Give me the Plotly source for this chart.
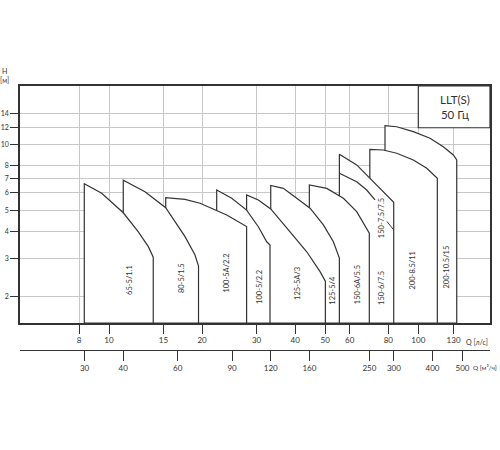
import math
import plotly.graph_objects as go

# pump models, left to right
pumps = ['65-5/1.1', '80-5/1.5', '100-5A/2.2', '100-5/2.2', '125-5A/3', '125-5/4',
         '150-6A/5.5', '150-6/7.5', '150-7.5/7.5', '200-8.5/11', '200-10.5/15']

# Q [l/s] / H [m] along the top curve of each working field
q_curves = [
    [8.32, 9.47, 11.12, 12.44, 13.40, 13.90],
    [11.12, 13.07, 15.25, 17.61, 18.97, 19.47],
    [15.25, 17.61, 19.69, 24.02, 27.85],
    [22.29, 24.93, 27.85, 30.39, 32.35, 33.15],
    [27.85, 30.39, 33.33, 38.48, 43.58, 48.12, 50.06],
    [33.33, 36.61, 40.45, 44.67, 49.32, 53.13, 55.56],
    [44.43, 50.58, 57.24, 63.21, 68.10, 69.43],
    [55.56, 63.21, 68.10, 72.44],
    [55.56, 63.21, 71.53, 78.03, 83.26],
    [69.70, 77.05, 85.14, 96.34, 106.5, 115.2],
    [78.03, 85.14, 96.34, 109.1, 120.4, 129.8, 133.1],
]
h_curves = [
    [6.62, 5.98, 4.86, 3.97, 3.39, 3.03],
    [6.86, 6.08, 5.13, 3.77, 3.10, 2.76],
    [5.70, 5.60, 5.38, 4.75, 4.20],
    [6.19, 5.67, 5.00, 4.19, 3.57, 3.45],
    [5.87, 5.57, 5.06, 3.97, 3.21, 2.60, 2.35],
    [6.50, 6.30, 5.67, 5.10, 4.27, 3.57, 3.00],
    [6.53, 6.30, 5.67, 4.92, 4.12, 3.91],
    [7.40, 6.76, 6.19, 5.57],
    [9.05, 8.08, 6.76, 5.98, 5.43],
    [9.54, 9.47, 9.15, 8.52, 7.80, 7.01],
    [12.27, 12.13, 11.51, 10.73, 9.81, 8.98, 8.52],
]
open_fields = ['150-6/7.5']  # only the curve is drawn

# label positions (Q, H)
label_q = [11.69, 17.18, 23.92, 30.77, 40.45, 52.89, 63.5, 75.6, 76.2, 95.6, 123.6]
label_h = [2.38, 2.42, 2.55, 2.21, 2.30, 2.14, 2.26, 2.18, 4.58, 2.64, 2.74]

q_ls_ticks = [8, 10, 15, 20, 30, 40, 50, 60, 80, 100, 130]
q_m3h_ticks = [30, 40, 60, 90, 120, 160, 250, 300, 400, 500]
h_ticks = [2, 3, 4, 5, 6, 7, 8, 10, 12, 14]

q_range = [5.155, 170.5]
h_range = [1.506, 18.7]

LINE = '#333333'
GRID = '#c8c8c8'
FONT = 'Lato'

fig = go.Figure()

# later fields go underneath earlier ones
for i in reversed(range(len(pumps))):
    q = q_curves[i]
    h = h_curves[i]
    if pumps[i] in open_fields:
        fig.add_trace(go.Scatter(x=q, y=h, mode='lines',
                                 line=dict(color=LINE, width=1.2),
                                 hoverinfo='skip', showlegend=False))
        continue
    xs = [q[0]] + q + [q[-1], q[0]]
    ys = [h_range[0]] + h + [h_range[0], h_range[0]]
    fig.add_trace(go.Scatter(x=xs, y=ys, mode='lines', fill='toself',
                             fillcolor='white',
                             line=dict(color=LINE, width=1.2),
                             hoverinfo='skip', showlegend=False))

# dummy trace so the m3/h axis is drawn
fig.add_trace(go.Scatter(x=[], y=[], xaxis='x2', showlegend=False))

for name, lq, lh in zip(pumps, label_q, label_h):
    fig.add_annotation(x=math.log10(lq), y=math.log10(lh), text=name,
                       textangle=-90, showarrow=False,
                       font=dict(family=FONT, size=7.5, color=LINE))

# leader line for 150-7.5/7.5
fig.add_annotation(x=math.log10(83.26), y=math.log10(4.05), text='',
                   showarrow=True, arrowhead=0, arrowwidth=1, arrowcolor=LINE,
                   ax=-8, ay=-10)

# LLT(S) box
fig.add_shape(type='rect', xref='x', yref='y', x0=100, x1=q_range[1],
              y0=12, y1=h_range[1], fillcolor='white',
              line=dict(color=LINE, width=1.2), layer='above')
fig.add_annotation(xref='paper', yref='paper', x=0.925, y=0.921,
                   xanchor='center', yanchor='middle',
                   text='LLT(S)<br>50 Гц', showarrow=False, align='center',
                   font=dict(family=FONT, size=11.5, color=LINE))

fig.add_annotation(xref='paper', yref='paper', x=-0.032, y=1.0,
                   xanchor='center', yanchor='bottom',
                   text='H<br>[м]', showarrow=False,
                   font=dict(family=FONT, size=7, color=LINE))
fig.add_annotation(xref='paper', yref='paper', x=0.944, y=0.03,
                   xanchor='left', yanchor='middle',
                   text='Q [л/с]', showarrow=False,
                   font=dict(family=FONT, size=7, color=LINE))
fig.add_annotation(xref='paper', yref='paper', x=0.959, y=-0.066,
                   xanchor='left', yanchor='middle',
                   text='Q [м³/ч]', showarrow=False,
                   font=dict(family=FONT, size=6.5, color=LINE))

fig.update_layout(
    width=500, height=450,
    margin=dict(l=20, r=10, t=86, b=100, autoexpand=False),
    plot_bgcolor='white', paper_bgcolor='white',
    font=dict(family=FONT, size=8, color=LINE),
    showlegend=False,
    xaxis=dict(type='log', range=[math.log10(v) for v in q_range],
               tickvals=q_ls_ticks, ticktext=[str(v) for v in q_ls_ticks],
               ticks='outside', ticklen=9, tickcolor=LINE,
               showgrid=True, gridcolor=GRID, gridwidth=1,
               showline=True, mirror=True, linecolor=LINE, linewidth=1.5,
               zeroline=False, tickfont=dict(size=8), automargin=False),
    xaxis2=dict(type='log', overlaying='x', anchor='free', position=0,
                side='bottom', range=[math.log10(v) for v in q_range],
                tickvals=[v / 3.6 for v in q_m3h_ticks],
                ticktext=[str(v) for v in q_m3h_ticks],
                ticks='outside', ticklen=10, tickcolor=LINE,
                showgrid=False, showline=True, linecolor=LINE, linewidth=1.2,
                zeroline=False, tickfont=dict(size=8), automargin=False),
    yaxis=dict(type='log', range=[math.log10(v) for v in h_range],
               domain=[0.1023, 1],
               tickvals=h_ticks, ticktext=[str(v) for v in h_ticks],
               ticks='outside', ticklen=8, tickcolor=LINE,
               showgrid=True, gridcolor=GRID, gridwidth=1,
               showline=True, mirror=True, linecolor=LINE, linewidth=1.5,
               zeroline=False, tickfont=dict(size=7), automargin=False),
)

# drop the page's default body margin so the figure sits at the corner
fig.write_html("out.html", config={'displayModeBar': False},
               post_script="document.body.style.margin='0';")
